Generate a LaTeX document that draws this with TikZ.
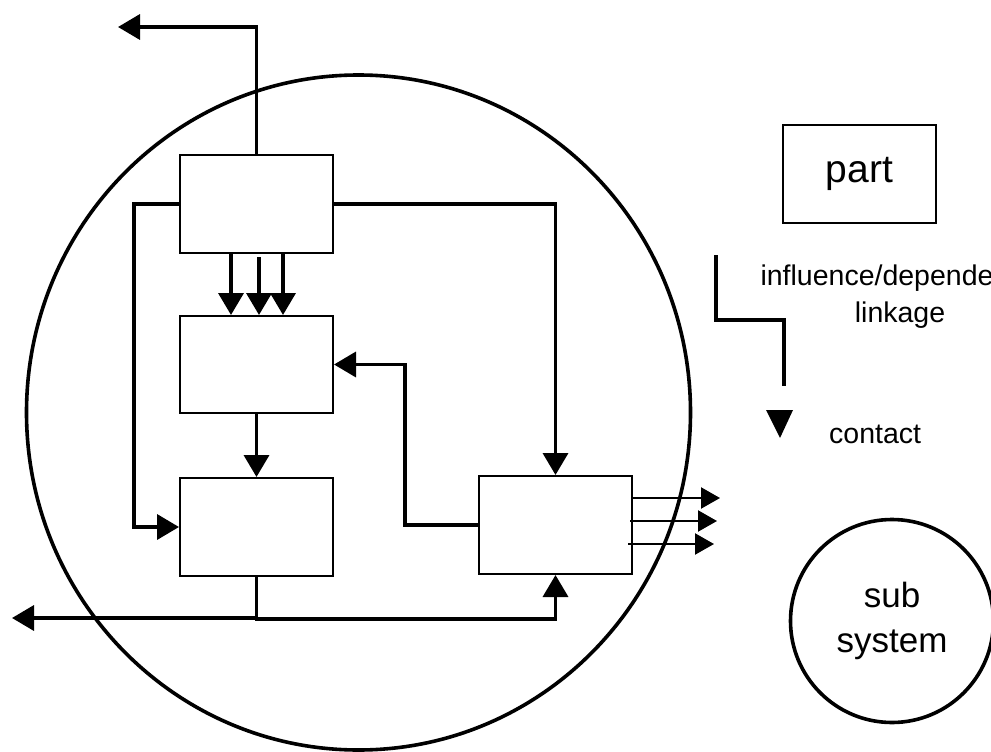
\documentclass[tikz,border=0pt]{standalone}
\usepackage{fontspec}
\setmainfont{Liberation Sans}
\usetikzlibrary{arrows.meta,calc}
\tikzset{
  blockbox/.style={draw=black,line width=2pt,fill=white,minimum width=153pt,minimum height=98pt,inner sep=0pt},
  conn/.style={line width=3.6pt,-{Triangle[length=22pt,width=25pt]}},
  plainline/.style={line width=3.6pt},
  thinconn/.style={line width=2.2pt,-{Triangle[length=19pt,width=21pt]}},
}
\begin{document}
\begin{tikzpicture}[x=1pt,y=-1pt]
\useasboundingbox (0,0) rectangle (991,752);
\clip (0,0) rectangle (991,752);
% system boundary
\draw[line width=3.6pt] (358.5,412.5) ellipse [x radius=332, y radius=337.5];
% blocks
\node[blockbox] (A) at (256.5,204) {};
\node[blockbox,minimum height=97pt] (B) at (256.5,364.5) {};
\node[blockbox] (C) at (256.5,527) {};
\node[blockbox] (D) at (555.5,525) {};
% free ends
\coordinate (topout) at (118,27);
\coordinate (leftout) at (12,618);
% connectors
\draw[conn] (A.north) |- (topout);
\draw[conn] (A.west) -- ++(-45,0) |- (C.west);
\draw[conn] (A.east) -| (D.north);
\draw[conn] ([xshift=-25.5pt]A.south) -- ([xshift=-25.5pt]B.north);
\draw[conn] ([xshift=2.5pt,yshift=-3pt]A.south) -- ([xshift=2.5pt]B.north);
\draw[conn] ([xshift=26.5pt]A.south) -- ([xshift=26.5pt]B.north);
\draw[conn] (B.south) -- (C.north);
\draw[conn] (D.west) -- ++(-73,0) |- (B.east);
\draw[conn] (C.south) -- ++(0,42) -| (D.south);
\draw[conn] (C.south) |- (leftout);
\draw[thinconn] ([xshift=-5pt,yshift=-19pt]D.east) -- ++(86,0);
\draw[thinconn] ([xshift=-3pt,yshift=4pt]D.east) -- ++(87,0);
\draw[thinconn] ([xshift=0pt,yshift=27pt]D.east) -- ++(87,0);
% legend
\node[draw=black,line width=2pt,minimum width=153pt,minimum height=98pt,inner sep=0pt,font=\fontsize{39}{45}\selectfont] (part) at (859.5,174) {\raisebox{7pt}{part}};
\coordinate (l1) at (716,255);
\coordinate (l2) at (716,320);
\coordinate (l3) at (784,320);
\coordinate (l4) at (784,386);
\draw[plainline] (l1) -- (l2) -- (l3) -- (l4);
\node[align=center,font=\fontsize{28.5}{37}\selectfont,anchor=base] (inftext) at (900,322) {influence/dependence\\linkage};
\fill (766,410) -- (793,410) -- (780,438) -- cycle;
\node[anchor=base west,font=\fontsize{28.5}{34}\selectfont,inner sep=0pt] (contact) at (829,443) {contact};
\node[draw=black,circle,line width=3.6pt,minimum size=203pt,inner sep=0pt,align=center,font=\fontsize{35}{45}\selectfont] (sub) at (892,621) {sub\\system};
\end{tikzpicture}
\end{document}
